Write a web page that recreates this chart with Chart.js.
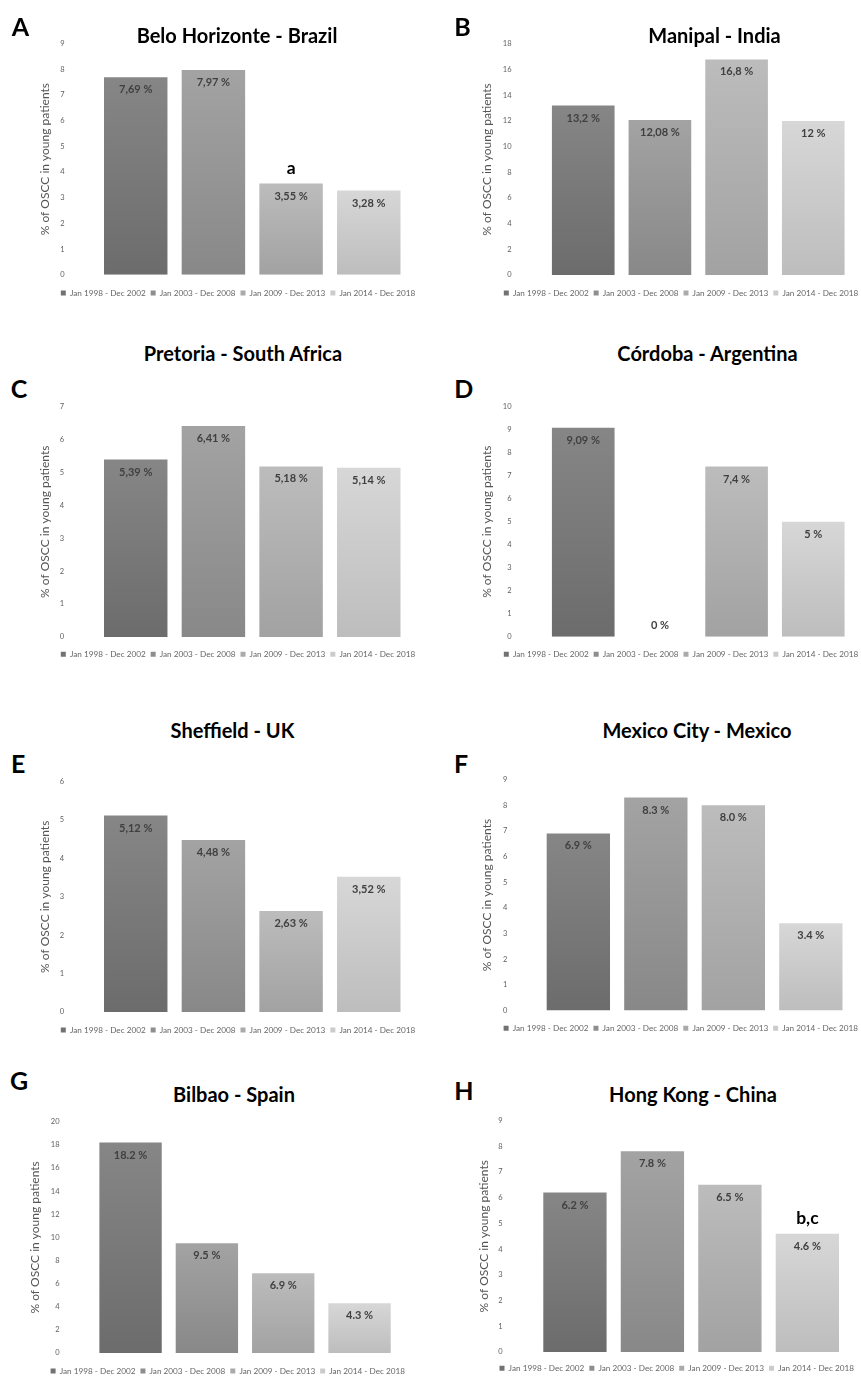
<!DOCTYPE html>
<html>
<head>
<meta charset="utf-8">
<script src="https://cdn.jsdelivr.net/npm/chart.js@4.4.0/dist/chart.umd.min.js"></script>
<style>
html,body{margin:0;padding:0;background:#fff;overflow:hidden;width:861px;height:1376px;}
#root{position:relative;width:861px;height:1376px;overflow:hidden;background:#fff;}
#root canvas{position:absolute;}
.title{position:absolute;font-family:Lato,'Open Sans',sans-serif;font-weight:700;font-size:20px;line-height:1.2;color:#000;white-space:nowrap;transform:translateX(-50%);}
.letter{position:absolute;font-family:Lato,'Open Sans',sans-serif;font-weight:700;font-size:25px;line-height:1.2;color:#000;transform:translateX(-50%);}
</style>
</head>
<body>
<div id="root"></div>
<script>
// ---------------- data ----------------
const periods = ['Jan 1998 - Dec 2002', 'Jan 2003 - Dec 2008', 'Jan 2009 - Dec 2013', 'Jan 2014 - Dec 2018'];
const cities = ['Belo Horizonte - Brazil', 'Manipal - India', 'Pretoria - South Africa', 'Córdoba - Argentina',
                'Sheffield - UK', 'Mexico City - Mexico', 'Bilbao - Spain', 'Hong Kong - China'];
const panelLetters = ['A', 'B', 'C', 'D', 'E', 'F', 'G', 'H'];
const valuesBeloHorizonte = [7.69, 7.97, 3.55, 3.28];
const valuesManipal = [13.2, 12.08, 16.8, 12];
const valuesPretoria = [5.39, 6.41, 5.18, 5.14];
const valuesCordoba = [9.09, 0, 7.4, 5];
const valuesSheffield = [5.12, 4.48, 2.63, 3.52];
const valuesMexicoCity = [6.9, 8.3, 8.0, 3.4];
const valuesBilbao = [18.2, 9.5, 6.9, 4.3];
const valuesHongKong = [6.2, 7.8, 6.5, 4.6];
const yMaxes = [9, 18, 7, 10, 6, 9, 20, 9];
const yStepSizes = [1, 2, 1, 1, 1, 1, 2, 1];
const labelFormats = ['comma', 'comma', 'comma', 'comma', 'comma', 'dot1', 'dot1', 'dot1'];
const notesBeloHorizonte = ['', '', 'a', ''];
const notesHongKong = ['', '', '', 'b,c'];
const noNotes = ['', '', '', ''];
const yAxisTitle = '% of OSCC in young patients';

const panelValues = [valuesBeloHorizonte, valuesManipal, valuesPretoria, valuesCordoba,
                     valuesSheffield, valuesMexicoCity, valuesBilbao, valuesHongKong];
const panelNotes = [notesBeloHorizonte, noNotes, noNotes, noNotes, noNotes, noNotes, noNotes, notesHongKong];

// ---------------- styling / geometry ----------------
const barTop = ['#868686', '#a3a3a3', '#bcbcbc', '#d7d7d7'];
const barBottom = ['#6c6c6c', '#888888', '#a2a2a2', '#bdbdbd'];
const legendFill = ['#727272', '#8e8e8e', '#aaaaaa', '#cbcbcb'];
// cl/cr: plot area left/right, ct/cb: pixel of max tick / zero, ytx: axis title centre x,
// tr: tick label right edge, ly: legend text centre y, lc: legend centre x,
// tx/ty: chart title centre, lx/lyy: panel letter centre
const geo = [
  {cl: 96.9, cr: 407.6, ct: 43.5, cb: 274.8, ytx: 45, tr: 64.5, ly: 293, lc: 238, tx: 237, ty: 35.3, lx: 20.5, lyy: 27},
  {cl: 544.9, cr: 851.6, ct: 44, cb: 275, ytx: 487.3, tr: 511.5, ly: 293, lc: 681, tx: 714.5, ty: 35.3, lx: 462.5, lyy: 26.7},
  {cl: 96.9, cr: 407.6, ct: 406.5, cb: 637, ytx: 45, tr: 64, ly: 654.3, lc: 238, tx: 243, ty: 353.7, lx: 19, lyy: 389},
  {cl: 544.9, cr: 851.6, ct: 406.7, cb: 636.7, ytx: 487.3, tr: 511.5, ly: 654.3, lc: 681, tx: 707.5, ty: 353.7, lx: 463.8, lyy: 389},
  {cl: 96.9, cr: 407.6, ct: 781.7, cb: 1011.9, ytx: 45, tr: 64, ly: 1030, lc: 238, tx: 232.5, ty: 730.2, lx: 18.3, lyy: 764},
  {cl: 539.6, cr: 849.6, ct: 779.5, cb: 1010.5, ytx: 487.3, tr: 507.3, ly: 1028.3, lc: 680.8, tx: 697, ty: 730.2, lx: 461, lyy: 764},
  {cl: 92.4, cr: 397.7, ct: 1121.8, cb: 1353, ytx: 35, tr: 59.5, ly: 1371, lc: 227.8, tx: 234, ty: 1095, lx: 19, lyy: 1081},
  {cl: 536.2, cr: 846.1, ct: 1120.5, cb: 1352, ytx: 484, tr: 502.7, ly: 1368.3, lc: 676.7, tx: 693, ty: 1095, lx: 463.8, lyy: 1090.5}
];

const FONT = 'Lato, "Open Sans", sans-serif';
const TICK_FONT = 7.5, YT_FONT = 12, LEG_FONT = 8.2, LEG_PAD = 5, LEG_BOX = 5;
const YT_LH = YT_FONT * 1.2;

Chart.defaults.font.family = FONT;

function formatValue(v, fmt) {
  if (fmt === 'dot1') return v.toFixed(1) + ' %';
  return String(v).replace('.', ',') + ' %';
}

const barLabelPlugin = {
  id: 'barLabels',
  afterDatasetsDraw(chart, args, opts) {
    const ctx = chart.ctx;
    ctx.save();
    ctx.textAlign = 'center';
    chart.data.datasets.forEach((ds, i) => {
      const el = chart.getDatasetMeta(i).data[0];
      const v = ds.data[0];
      ctx.font = 'bold 11px ' + FONT;
      ctx.fillStyle = '#404040';
      ctx.textBaseline = 'middle';
      const y = v === 0 ? el.base - 11 : el.y + 12.5;
      ctx.fillText(formatValue(v, opts.format), el.x, y);
      const note = opts.notes[i];
      if (note) {
        ctx.font = 'bold 17.5px ' + FONT;
        ctx.fillStyle = '#000';
        ctx.textBaseline = 'alphabetic';
        ctx.fillText(note, el.x, el.y - 9.5);
      }
    });
    ctx.restore();
  }
};

const root = document.getElementById('root');

panelValues.forEach((values, k) => {
  const g = geo[k];
  const spanL = g.ytx - YT_LH / 2;
  const spanR = 2 * g.lc - spanL;
  const itemH = Math.max(LEG_FONT, LEG_BOX);
  const xH = g.ly - g.cb - LEG_PAD - itemH / 2;
  const legH = itemH + LEG_PAD + 10;
  const bottomEdge = g.cb + xH + legH;
  const cL = Math.floor(spanL) - 2;
  const cT = Math.floor(g.ct) - 12;
  const cW = Math.ceil(spanR - cL) + 2;
  const cH = Math.ceil(bottomEdge - cT) + 2;
  const padding = {left: spanL - cL, right: cL + cW - spanR, top: g.ct - cT, bottom: cT + cH - bottomEdge};

  const cv = document.createElement('canvas');
  cv.width = cW; cv.height = cH;
  cv.style.left = cL + 'px'; cv.style.top = cT + 'px';
  cv.style.width = cW + 'px'; cv.style.height = cH + 'px';
  root.appendChild(cv);

  const title = document.createElement('div');
  title.className = 'title';
  title.textContent = cities[k];
  title.style.left = g.tx + 'px';
  title.style.top = (g.ty - 0.629 * 20) + 'px';
  root.appendChild(title);

  const letter = document.createElement('div');
  letter.className = 'letter';
  letter.textContent = panelLetters[k];
  letter.style.left = g.lx + 'px';
  letter.style.top = (g.lyy - 0.629 * 25) + 'px';
  root.appendChild(letter);

  const datasets = periods.map((p, i) => ({
    label: p,
    data: [values[i]],
    backgroundColor: (c) => {
      if (c.type !== 'data') return legendFill[i];
      const ch = c.chart;
      const ys = ch.scales && ch.scales.y;
      if (!ys || !ch.chartArea) return legendFill[i];
      const yTop = ys.getPixelForValue(c.raw);
      const yBase = ys.getPixelForValue(0);
      if (yBase - yTop < 1) return barBottom[i];
      const grad = ch.ctx.createLinearGradient(0, yTop, 0, yBase);
      grad.addColorStop(0, barTop[i]);
      grad.addColorStop(1, barBottom[i]);
      return grad;
    },
    borderWidth: 0,
    categoryPercentage: 1,
    barPercentage: 0.817
  }));

  new Chart(cv, {
    type: 'bar',
    data: {labels: [''], datasets},
    options: {
      responsive: false,
      animation: false,
      devicePixelRatio: 1,
      layout: {padding},
      events: [],
      plugins: {
        legend: {
          display: true,
          position: 'bottom',
          labels: {
            boxWidth: LEG_BOX, boxHeight: LEG_BOX, padding: LEG_PAD,
            color: '#666666', font: {size: LEG_FONT, family: FONT},
            generateLabels: (chart) => chart.data.datasets.map((ds, i) => ({
              text: ds.label, fillStyle: legendFill[i], strokeStyle: legendFill[i],
              lineWidth: 0, hidden: false, datasetIndex: i, fontColor: '#666666'
            }))
          }
        },
        title: {display: false},
        tooltip: {enabled: false},
        barLabels: {format: labelFormats[k], notes: panelNotes[k]}
      },
      scales: {
        x: {
          display: true,
          grid: {display: false, drawTicks: false},
          border: {display: false},
          ticks: {display: false},
          afterFit: (s) => { s.height = xH; }
        },
        y: {
          position: 'left',
          min: 0, max: yMaxes[k],
          grid: {display: false, drawTicks: false},
          border: {display: false},
          ticks: {stepSize: yStepSizes[k], padding: g.cl - g.tr, color: '#5e5e5e', font: {size: TICK_FONT, family: FONT}},
          title: {display: true, text: yAxisTitle, color: '#555555', font: {size: YT_FONT, family: FONT}, padding: 0},
          afterFit: (s) => { s.width = g.cl - spanL; s.paddingTop = 0; s.paddingBottom = 0; }
        },
        spacer: {
          type: 'linear',
          position: 'right',
          display: true,
          grid: {display: false, drawTicks: false},
          border: {display: false},
          ticks: {display: false},
          afterFit: (s) => { s.width = spanR - g.cr; s.paddingTop = 0; s.paddingBottom = 0; }
        }
      }
    },
    plugins: [barLabelPlugin]
  });
});
</script>
</body>
</html>
